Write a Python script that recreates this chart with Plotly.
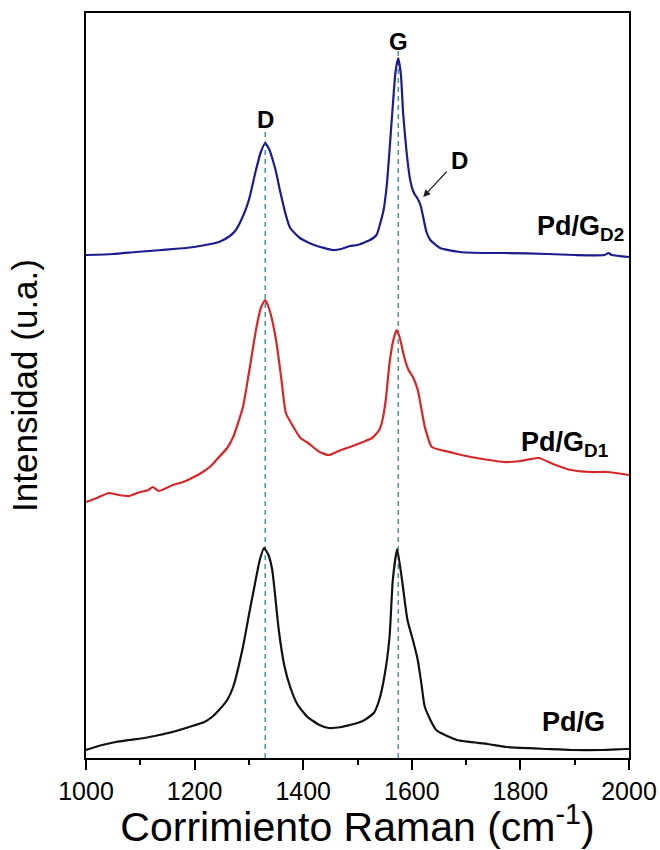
import plotly.graph_objects as go

# Raman shift (cm^-1) and intensity (a.u.)
pdg_d2_x = [1000, 1050, 1092, 1140, 1184, 1220, 1245, 1265, 1276, 1290, 1300, 1313, 1322, 1330,
            1338, 1345, 1350, 1357, 1368, 1376, 1394, 1420, 1455, 1470, 1486, 1500, 1523, 1535,
            1541, 1548, 1554, 1559, 1564, 1570, 1575, 1580, 1584, 1590, 1597, 1604, 1610, 1616,
            1621, 1627, 1634, 1652, 1689, 1742, 1775, 1850, 1900, 1955, 1962, 1968, 2000]
pdg_d2_y = [503, 504, 506, 508, 510, 513, 516, 522, 528, 543, 558, 588, 606, 615,
            608, 596, 586, 568, 543, 530, 520, 513, 508, 509, 512, 513, 518, 523,
            533, 548, 573, 608, 645, 686, 700, 683, 645, 608, 578, 565, 560, 553,
            541, 526, 518, 510, 506, 505, 505, 504, 503, 503, 505, 503, 501]

pdg_d1_x = [1000, 1020, 1042, 1060, 1079, 1100, 1115, 1123, 1134, 1160, 1179, 1195, 1215, 1230,
            1245, 1260, 1271, 1289, 1300, 1313, 1322, 1330, 1338, 1350, 1360, 1368, 1382, 1395,
            1409, 1430, 1447, 1465, 1486, 1510, 1527, 1540, 1546, 1552, 1559, 1566, 1572, 1578,
            1586, 1594, 1602, 1611, 1618, 1624, 1637, 1677, 1700, 1742, 1770, 1800, 1834, 1860,
            1893, 1930, 1960, 2000]
pdg_d1_y = [256, 260, 265, 263, 262, 266, 268, 271, 267, 273, 276, 280, 286, 292,
            301, 310, 321, 351, 385, 428, 450, 458, 448, 418, 378, 345, 331, 320,
            315, 306, 303, 307, 311, 316, 320, 328, 338, 358, 395, 418, 428, 420,
            401, 388, 381, 368, 348, 331, 311, 305, 302, 298, 296, 297, 300, 294,
            288, 286, 286, 283]

pdg_x = [1000, 1030, 1055, 1080, 1107, 1135, 1159, 1190, 1218, 1232, 1245, 1260, 1271, 1289,
         1300, 1310, 1320, 1328, 1336, 1343, 1355, 1365, 1376, 1390, 1408, 1430, 1447, 1470,
         1486, 1500, 1513, 1530, 1540, 1550, 1559, 1565, 1573, 1582, 1592, 1602, 1611, 1618,
         1624, 1645, 1683, 1740, 1775, 1850, 1893, 1950, 1994, 2000]
pdg_y = [8, 13, 16, 18, 20, 23, 26, 31, 36, 41, 48, 58, 71, 111,
         143, 171, 198, 210, 203, 188, 128, 93, 71, 53, 41, 33, 30, 31,
         33, 35, 38, 45, 58, 83, 121, 178, 209, 178, 138, 118, 98, 73,
         51, 28, 18, 14, 11, 9, 8, 8, 9, 9]

band_positions = [1330, 1575]
band_names = ["D", "G"]
series_names = ["Pd/G<sub>D2</sub>", "Pd/G<sub>D1</sub>", "Pd/G"]

FONT = "Liberation Sans, Arial, sans-serif"

fig = go.Figure()
for xs, ys, col in [(pdg_d2_x, pdg_d2_y, "#1c1c8c"),
                    (pdg_d1_x, pdg_d1_y, "#d62728"),
                    (pdg_x, pdg_y, "#111111")]:
    fig.add_trace(go.Scatter(x=xs, y=ys, mode="lines",
                             line=dict(color=col, width=2.2, shape="spline", smoothing=0.5),
                             showlegend=False, hoverinfo="skip"))

# dashed reference lines at D and G bands
dash_tops = [626, 708]
for xv, top in zip(band_positions, dash_tops):
    fig.add_shape(type="line", xref="x", yref="y", x0=xv, x1=xv, y0=0, y1=top,
                  line=dict(color="#3f8f96", width=1.4, dash="5px,4px"), layer="below")

# band labels
fig.add_annotation(x=band_positions[0], y=639, text="<b>" + band_names[0] + "</b>", showarrow=False,
                   font=dict(family=FONT, size=24, color="black"), xanchor="center", yanchor="middle")
fig.add_annotation(x=band_positions[1], y=717, text="<b>" + band_names[1] + "</b>", showarrow=False,
                   font=dict(family=FONT, size=24, color="black"), xanchor="center", yanchor="middle")
# D' shoulder label with arrow
fig.add_annotation(x=1621, y=561, ax=1667, ay=588, axref="x", ayref="y", text="",
                   showarrow=True, arrowhead=2, arrowsize=1.2, arrowwidth=1.2, arrowcolor="#222")
fig.add_annotation(x=1687, y=598, text="<b>D</b>", showarrow=False,
                   font=dict(family=FONT, size=24, color="black"), xanchor="center", yanchor="middle")

# sample labels
for txt, xr, yv in [(series_names[0], 1994, 530), (series_names[1], 1965, 314), (series_names[2], 1959, 36)]:
    fig.add_annotation(x=xr, y=yv, text="<b>" + txt + "</b>", showarrow=False,
                       font=dict(family=FONT, size=27, color="black"), xanchor="right", yanchor="middle")

fig.update_layout(
    width=660, height=850,
    margin=dict(l=86, r=31, t=13, b=92),
    paper_bgcolor="white", plot_bgcolor="white",
    font=dict(family=FONT, color="black"),
    xaxis=dict(range=[1000, 2000], showgrid=False, zeroline=False, automargin=False,
               showline=True, linecolor="black", linewidth=2, mirror=True,
               ticks="outside", ticklen=10, tickwidth=1.5, tickcolor="black",
               tick0=1000, dtick=200,
               minor=dict(ticks="outside", ticklen=5, dtick=100, tickcolor="black", tickwidth=1.5),
               tickfont=dict(family=FONT, size=25, color="black"),
               title=dict(text="Corrimiento Raman (cm<sup>-1</sup>)", standoff=4,
                          font=dict(family=FONT, size=41, color="black"))),
    yaxis=dict(range=[0, 745], showgrid=False, zeroline=False, automargin=False,
               showline=True, linecolor="black", linewidth=2, mirror=True,
               showticklabels=False, ticks="",
               title=dict(text="Intensidad (u.a.)", standoff=36,
                          font=dict(family=FONT, size=35, color="black"))),
)

fig.write_html("out.html")
